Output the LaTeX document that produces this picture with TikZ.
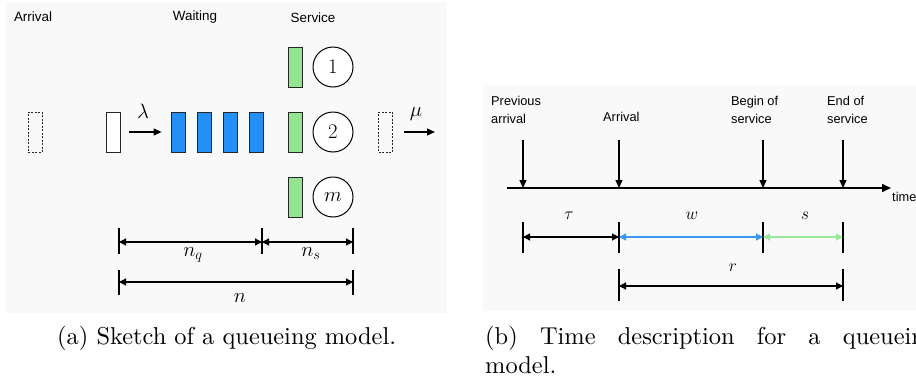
\documentclass[tikz,border=0pt]{standalone}
\usepackage{fontspec}
\newfontfamily\labelfont{Liberation Sans}
\newfontfamily\capfont{lmroman10-regular.otf}
\usetikzlibrary{arrows.meta}

\definecolor{panel}{HTML}{F9F9F9}
\definecolor{qblue}{HTML}{2290F8}
\definecolor{qgreen}{HTML}{93E691}
\definecolor{wblue}{HTML}{3A98F2}
\definecolor{sgreen}{HTML}{98EA98}

\begin{document}
\begin{tikzpicture}[x=1pt,y=-1pt,
  headlbl/.style={font=\labelfont\fontsize{13.4}{16}\selectfont, inner sep=0pt, anchor=base},
  timelbl/.style={font=\labelfont\fontsize{12.8}{18}\selectfont, inner sep=0pt, align=left, anchor=north west},
  mathbig/.style={font=\fontsize{20}{24}\selectfont, inner sep=0pt, anchor=base},
  mathsmall/.style={font=\fontsize{17.5}{21}\selectfont, inner sep=0pt, anchor=base},
  caption/.style={font=\capfont\fontsize{24.4}{29}\selectfont, inner sep=0pt, anchor=base west},
  cust/.style={rectangle, draw=black!85, line width=0.8pt, minimum width=14pt, minimum height=40pt, inner sep=0pt},
  ghost/.style={cust, dash pattern=on 2pt off 1.5pt},
  server/.style={circle, draw=black, line width=1pt, minimum size=40pt, inner sep=0pt, font=\fontsize{20}{24}\selectfont},
  flow/.style={-{Triangle[length=8pt,width=7pt]}, line width=1.1pt},
  dim/.style={{Triangle[length=7pt,width=7pt]}-{Triangle[length=7pt,width=7pt]}, line width=1.2pt},
  tick/.style={line width=1.2pt},
  event/.style={-{Triangle[length=8pt,width=7pt]}, line width=1.2pt},
]
\useasboundingbox (0,0) rectangle (916,386);
\fill[white] (0,0) rectangle (916,386);

% ---------- (a) queueing model ----------
\fill[panel] (6,2) rectangle (447,313);

\node[headlbl] (harr) at (33,21) {Arrival};
\node[headlbl] (hwait) at (195,20) {Waiting};
\node[headlbl] (hserv) at (313,22.5) {Service};

\node[ghost] (gin) at (35,132) {};
\node[cust, fill=white] (cw) at (113,132) {};
\foreach \i/\x in {1/178,2/204,3/230,4/256}
  \node[cust, fill=qblue] (b\i) at (\x,132) {};

\node[cust, fill=qgreen] (g1) at (295,67) {};
\node[cust, fill=qgreen] (g2) at (295,132) {};
\node[cust, fill=qgreen] (g3) at (295,197) {};
\node[server, fill=white] (s1) at (333,67) {$1$};
\node[server, fill=white] (s2) at (333,132) {$2$};
\node[server, fill=white] (s3) at (333,197) {$m$};

\node[ghost] (gout) at (385.5,132) {};

\draw[flow] ([xshift=9pt]cw.east) -- ([xshift=-9pt]b1.west);
\node[mathbig] (lam) at (143,118) {$\lambda$};
\coordinate (muend) at (435,132);
\draw[flow] ([xshift=11pt]gout.east) -- (muend);
\node[mathbig] (mu) at (416,116) {$\mu$};

% dimension lines
\coordinate (qa) at (119,242);
\coordinate (qb) at (262,242);
\coordinate (qc) at (353,242);
\coordinate (na) at (119,282);
\coordinate (nc) at (353,282);
\foreach \c in {qa,qb,qc}
  \draw[tick] ([yshift=-12pt]\c) -- ([yshift=14pt]\c);
\foreach \c in {na,nc}
  \draw[tick] ([yshift=-13pt]\c) -- ([yshift=12pt]\c);
\draw[dim] (qa) -- (qb);
\draw[dim] (qb) -- (qc);
\draw[dim] (na) -- (nc);
\node[mathbig] (nq) at (193,256) {$n_q$};
\node[mathbig] (ns) at (311,256) {$n_s$};
\node[mathbig] (nn) at (240,302) {$n$};

% ---------- (b) time description ----------
\fill[panel] (483,85) rectangle (916,311);

\node[timelbl] (tprev) at (491,96.5) {Previous\\arrival};
\node[timelbl] (tarr) at (603,112) {Arrival};
\node[timelbl] (tbeg) at (731,96.5) {Begin of\\service};
\node[timelbl] (tend) at (827,96.5) {End of\\service};

\coordinate (axs) at (507,188);
\coordinate (axe) at (891,188);
\draw[-{Triangle[length=9pt,width=8pt]}, line width=1.5pt] (axs) -- (axe);
\node[font=\labelfont\fontsize{12.8}{16}\selectfont, inner sep=0pt, anchor=base west] (ttime) at (892,201.5) {time};

\foreach \n/\x in {p/523,a/619,b/763,e/843} {
  \coordinate (top\n) at (\x,140);
  \coordinate (ax\n) at (\x,188);
  \draw[event] (top\n) -- (ax\n);
  \coordinate (d\n) at (\x,237);
  \draw[tick] (\x,222) -- (\x,253);
}
\draw[dim] (dp) -- (da);
\draw[dim, draw=wblue, fill=wblue] (da) -- (db);
\draw[dim, draw=sgreen, fill=sgreen] (db) -- (de);

\coordinate (ra) at (619,286);
\coordinate (re) at (843,286);
\draw[tick] (619,269) -- (619,301);
\draw[tick] (843,269) -- (843,301);
\draw[dim] (ra) -- (re);

\node[mathsmall] (ltau) at (569,219) {$\tau$};
\node[mathsmall] (lw) at (692,219) {$w$};
\node[mathsmall] (ls) at (805,219) {$s$};
\node[mathsmall] (lr) at (733,271) {$r$};

% ---------- captions ----------
\node[caption] (capa) at (57,344) {(a) Sketch of a queueing model.};
\node[caption] (capb) at (485,344) {\makebox[452pt][s]{(b) Time description for a queueing}};
\node[caption] (capb2) at (485,373) {model.};
\end{tikzpicture}
\end{document}
